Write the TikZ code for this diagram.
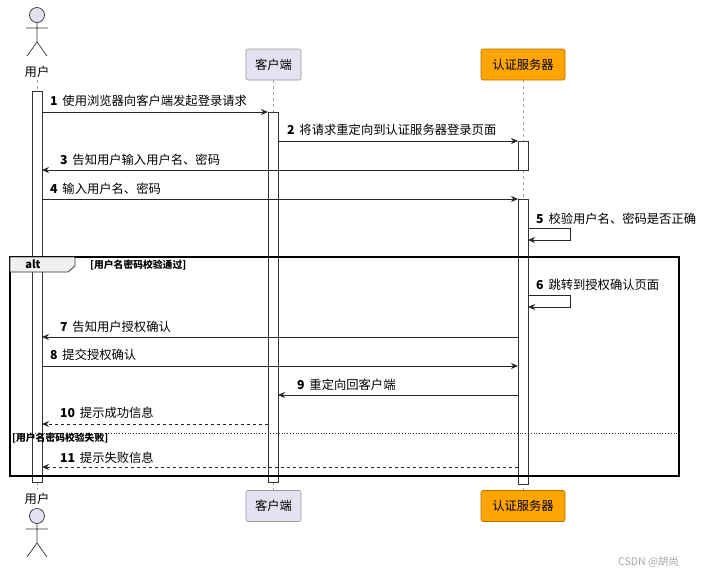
\documentclass[tikz,border=0pt]{standalone}
\usepackage{fontspec}
\setmainfont{Noto Sans CJK SC}
\usetikzlibrary{arrows.meta}
\begin{document}
\begin{tikzpicture}[x=1pt,y=-1pt,
  lbl/.style={anchor=west,inner sep=0pt,font=\fontsize{12.3}{14}\selectfont},
  msg/.style={draw=black!85,line width=0.7pt,-{Stealth[length=7pt,width=6pt]}},
  rmsg/.style={msg,dashed},
  life/.style={draw=gray!70,dashed,line width=0.6pt},
  act/.style={draw=black!80,fill=white,line width=0.7pt},
  part/.style={draw=gray!80,rounded corners=2pt,minimum height=31pt,font=\fontsize{12.3}{14}\selectfont,line width=0.6pt},
  actorst/.style={draw=black!80,fill={rgb,255:red,226;green,226;blue,240},line width=0.7pt}]
\useasboundingbox (0,0) rectangle (712,574);
\fill[white] (0,0) rectangle (712,574);
% lifelines
\draw[life] (37,80) -- (37,490);
\draw[life] (273,80) -- (273,490);
\draw[life] (523,80) -- (523,490);
% actors
\foreach \y/\ly in {15/72, 516/499}{
  \draw[actorst] (37,\y) circle (7.5);
  \draw[black!80,line width=0.7pt] (37,\y+7.5) -- (37,\y+27) (26,\y+13) -- (48,\y+13)
     (37,\y+27) -- (27,\y+41) (37,\y+27) -- (47,\y+41);
  \node[font=\fontsize{12.3}{14}\selectfont] at (37,\ly) {用户};
}
\node[part,fill={rgb,255:red,226;green,226;blue,240},minimum width=55pt] (c1) at (273.5,64.5) {客户端};
\node[part,fill={rgb,255:red,226;green,226;blue,240},minimum width=55pt] (c2) at (273.5,506) {客户端};
\node[part,fill={rgb,255:red,255;green,165;blue,0},draw={rgb,255:red,180;green,110;blue,0},minimum width=84pt] (s1) at (523,64.5) {认证服务器};
\node[part,fill={rgb,255:red,255;green,165;blue,0},draw={rgb,255:red,180;green,110;blue,0},minimum width=84pt] (s2) at (523,506) {认证服务器};
% activations
\draw[act] (32,91) rectangle (42,482);
\draw[act] (268,112) rectangle (278,482);
\draw[act] (518,141) rectangle (528,170);
\draw[act] (518,199) rectangle (528,484);
% alt frame
\draw[black,line width=1.2pt] (10,257) rectangle (679,476);
\draw[black!80,line width=0.8pt,fill=gray!12] (10,257) -- (75,257) -- (75,266) -- (68,272) -- (10,272) -- cycle;
\node[font=\bfseries\fontsize{11}{12}\selectfont] at (33,264.5) {alt};
\node[lbl,font=\bfseries\fontsize{9.8}{11}\selectfont] at (90,265) {[用户名密码校验通过]};
\draw[black!80,dotted,line width=0.8pt] (10,433) -- (679,433);
\node[lbl,font=\bfseries\fontsize{9.8}{11}\selectfont] at (12,438) {[用户名密码校验失败]};
% messages
\draw[msg] (42,112) -- (268,112);
\node[lbl] at (50,101) {\textbf{1}\, 使用浏览器向客户端发起登录请求};
\draw[msg] (278,141) -- (518,141);
\node[lbl] at (287,130) {\textbf{2}\, 将请求重定向到认证服务器登录页面};
\draw[msg] (518,170) -- (42,170);
\node[lbl] at (60,160) {\textbf{3}\, 告知用户输入用户名、密码};
\draw[msg] (42,199) -- (518,199);
\node[lbl] at (50,189) {\textbf{4}\, 输入用户名、密码};
\draw[msg] (528,228) -- (570,228) -- (570,240) -- (528,240);
\node[lbl] at (536,219) {\textbf{5}\, 校验用户名、密码是否正确};
\draw[msg] (528,295) -- (570,295) -- (570,307) -- (528,307);
\node[lbl] at (536,285) {\textbf{6}\, 跳转到授权确认页面};
\draw[msg] (518,337) -- (42,337);
\node[lbl] at (60,327) {\textbf{7}\, 告知用户授权确认};
\draw[msg] (42,366) -- (518,366);
\node[lbl] at (50,355) {\textbf{8}\, 提交授权确认};
\draw[msg] (518,395) -- (278,395);
\node[lbl] at (297,385) {\textbf{9}\, 重定向回客户端};
\draw[rmsg] (268,424) -- (42,424);
\node[lbl] at (60,413) {\textbf{10}\, 提示成功信息};
\draw[rmsg] (518,467) -- (42,467);
\node[lbl] at (60,458) {\textbf{11}\, 提示失败信息};
\node[lbl,text=gray!70,font=\fontsize{10.5}{12}\selectfont] at (618,562) {CSDN @胡尚};
\end{tikzpicture}
\end{document}
